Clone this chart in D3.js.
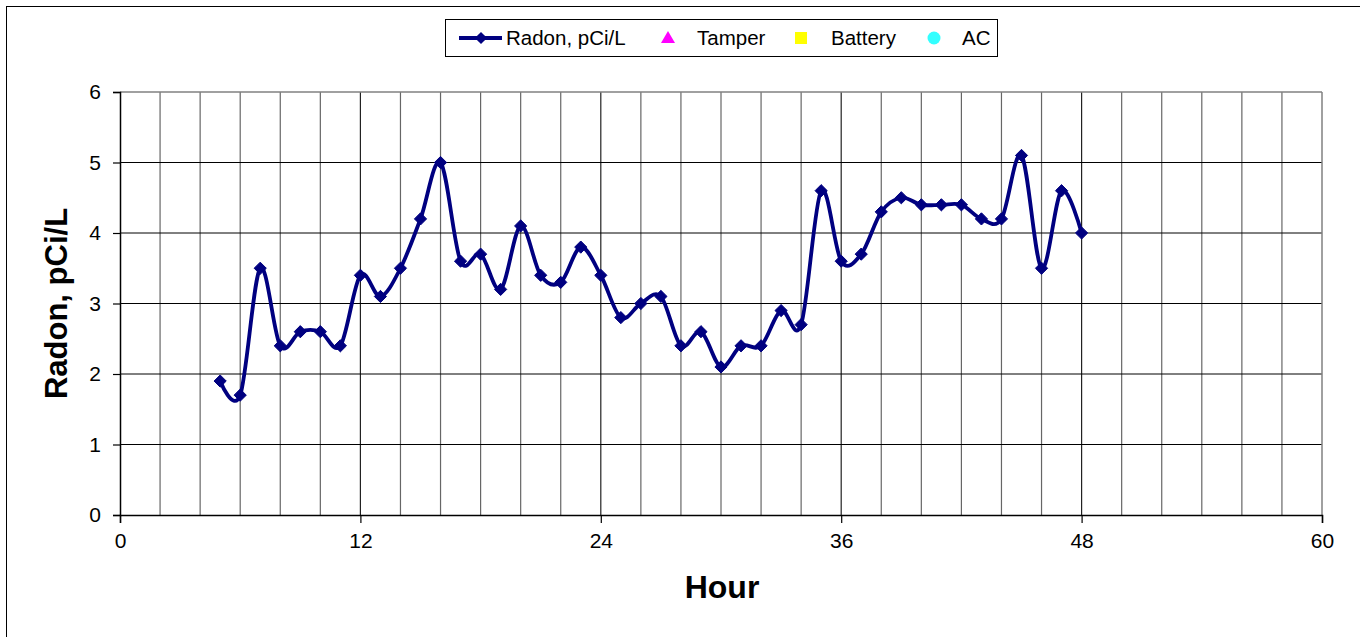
<!DOCTYPE html>
<html>
<head>
<meta charset="utf-8">
<script src="https://cdn.jsdelivr.net/npm/d3@7"></script>
<style>
  body { margin: 0; background: #fff; }
  svg { display: block; font-family: 'Liberation Sans', Arial, sans-serif; }
</style>
</head>
<body>
<div id="chart"></div>
<script>
'use strict';

// data
var hours = [5, 6, 7, 8, 9, 10, 11, 12, 13, 14, 15, 16, 17, 18, 19, 20, 21, 22, 23, 24, 25, 26,
  27, 28, 29, 30, 31, 32, 33, 34, 35, 36, 37, 38, 39, 40, 41, 42, 43, 44, 45, 46, 47, 48];
var radon = [1.9, 1.7, 3.5, 2.4, 2.6, 2.6, 2.4, 3.4, 3.1, 3.5, 4.2, 5.0, 3.6, 3.7, 3.2, 4.1, 3.4, 3.3,
  3.8, 3.4, 2.8, 3.0, 3.1, 2.4, 2.6, 2.1, 2.4, 2.4, 2.9, 2.7, 4.6, 3.6, 3.7, 4.3, 4.5, 4.4, 4.4,
  4.4, 4.2, 4.2, 5.1, 3.5, 4.6, 4.0];
var xTicks = [0, 12, 24, 36, 48, 60];
var yTicks = [0, 1, 2, 3, 4, 5, 6];
var legendItems = ['Radon, pCi/L', 'Tamper', 'Battery', 'AC'];

var width = 1360;
var height = 637;
var plot = { left: 120, right: 1322, top: 92, bottom: 515 };
var navy = '#000080';

var svg = d3.select('#chart').append('svg').attr('width', width).attr('height', height);

// outer frame (only left and top edges are visible)
svg.append('rect').attr('x', 6.5).attr('y', 6.5).attr('width', 1400).attr('height', 700)
  .attr('fill', 'none').attr('stroke', '#000').attr('stroke-width', 1);

var x = d3.scaleLinear().domain([0, 60]).range([plot.left, plot.right]);
var y = d3.scaleLinear().domain([0, 6]).range([plot.bottom, plot.top]);

// vertical grid every 2 hours
var g = svg.append('g').attr('id', 'grid');
d3.range(2, 60, 2).forEach(function (h) {
  g.append('line').attr('x1', x(h)).attr('x2', x(h)).attr('y1', plot.top).attr('y2', plot.bottom)
    .attr('stroke', h % 12 == 0 ? '#222' : '#666').attr('stroke-width', 1.2);
});
yTicks.slice(1, -1).forEach(function (v) {
  g.append('line').attr('x1', plot.left).attr('x2', plot.right).attr('y1', y(v)).attr('y2', y(v))
    .attr('stroke', '#000').attr('stroke-width', 1);
});
// plot border top and right
g.append('line').attr('x1', plot.left).attr('x2', plot.right).attr('y1', plot.top).attr('y2', plot.top)
  .attr('stroke', '#808080').attr('stroke-width', 1.5);
g.append('line').attr('x1', plot.right).attr('x2', plot.right).attr('y1', plot.top).attr('y2', plot.bottom)
  .attr('stroke', '#808080').attr('stroke-width', 1.5);

// axes
var yAxis = svg.append('g').attr('transform', 'translate(' + plot.left + ',0)')
  .call(d3.axisLeft(y).tickValues(yTicks).tickSize(7).tickPadding(12).tickFormat(d3.format('d')));
var xAxis = svg.append('g').attr('transform', 'translate(0,' + plot.bottom + ')')
  .call(d3.axisBottom(x).tickValues(xTicks).tickSize(8).tickPadding(10).tickFormat(d3.format('d')));
[yAxis, xAxis].forEach(function (a) {
  a.select('.domain').attr('stroke', '#000').attr('stroke-width', 1.5);
  a.selectAll('.tick line').attr('stroke', '#000').attr('stroke-width', 1.2);
  a.selectAll('.tick text').attr('fill', '#000').style('font-size', '21px')
    .style('font-family', "'Liberation Sans', Arial, sans-serif");
});

// axis titles
svg.append('text').attr('x', (plot.left + plot.right) / 2 + 1).attr('y', 598).attr('text-anchor', 'middle')
  .style('font-size', '32px').style('font-weight', 'bold').text('Hour');
svg.append('text').attr('transform', 'translate(67,' + (plot.top + plot.bottom) / 2 + ') rotate(-90)')
  .attr('text-anchor', 'middle').style('font-size', '31px').style('font-weight', 'bold').text('Radon, pCi/L');

// series
var points = hours.map(function (h, i) { return [h, radon[i]]; });
var line = d3.line().x(function (d) { return x(d[0]); }).y(function (d) { return y(d[1]); })
  .curve(d3.curveCardinal.tension(0));
svg.append('path').attr('d', line(points)).attr('fill', 'none').attr('stroke', navy)
  .attr('stroke-width', 3.8).attr('stroke-linejoin', 'round');

var diamond = d3.symbol().type(d3.symbolDiamond2).size(95);
svg.append('g').selectAll('path').data(points).join('path')
  .attr('transform', function (d) { return 'translate(' + x(d[0]) + ',' + y(d[1]) + ')'; })
  .attr('d', diamond).attr('fill', navy).attr('stroke', navy).attr('stroke-width', 1);

// legend
var lg = svg.append('g').attr('id', 'legend');
lg.append('rect').attr('x', 445.5).attr('y', 19.5).attr('width', 552).attr('height', 37)
  .attr('fill', '#fff').attr('stroke', '#000').attr('stroke-width', 1);
var ly = 38;
lg.append('line').attr('x1', 459).attr('x2', 502).attr('y1', ly).attr('y2', ly).attr('stroke', navy).attr('stroke-width', 3.8);
lg.append('path').attr('transform', 'translate(481,' + ly + ')').attr('d', diamond).attr('fill', navy);
lg.append('path').attr('transform', 'translate(668,' + (ly + 1) + ')')
  .attr('d', d3.symbol().type(d3.symbolTriangle).size(85)).attr('fill', '#ff00ff');
lg.append('rect').attr('x', 795).attr('y', ly - 6).attr('width', 12).attr('height', 12).attr('fill', '#ffff00');
lg.append('circle').attr('cx', 934).attr('cy', ly).attr('r', 6.5).attr('fill', '#33ffff');
var textX = [506, 697, 831, 962];
legendItems.forEach(function (t, i) {
  lg.append('text').attr('x', textX[i]).attr('y', ly + 7).style('font-size', '20.5px').text(t);
});
</script>
</body>
</html>
